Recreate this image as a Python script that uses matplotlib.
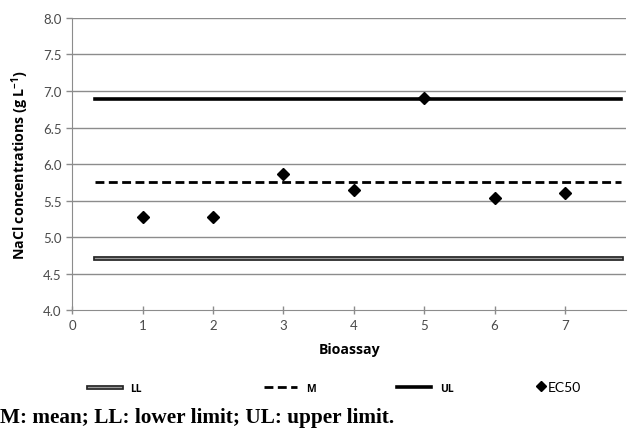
import matplotlib
matplotlib.use("Agg")
import matplotlib.pyplot as plt
import matplotlib.patheffects as pe
from matplotlib.lines import Line2D

# data
bioassay = [1, 2, 3, 4, 5, 6, 7]
ec50 = [5.28, 5.27, 5.87, 5.65, 6.91, 5.53, 5.60]
lower_limit = 4.72
mean_value = 5.75
upper_limit = 6.89
line_span = [0.33, 7.8]
y_ticks = [4.0, 4.5, 5.0, 5.5, 6.0, 6.5, 7.0, 7.5, 8.0]
x_ticks = [0, 1, 2, 3, 4, 5, 6, 7]

plt.rcParams['font.family'] = ['Lato', 'DejaVu Sans']
plt.rcParams['mathtext.fontset'] = 'custom'
plt.rcParams['mathtext.rm'] = 'Open Sans'
plt.rcParams['mathtext.bf'] = 'Open Sans:bold'

fig = plt.figure(figsize=(6.28, 4.31), dpi=100)
ax = fig.add_axes([0.115, 0.278, 0.882, 0.678])

grid_col = '#8c8c8c'
for yv in y_ticks[1:]:
    ax.axhline(yv, color=grid_col, lw=1.0, zorder=1)

ll_effects = [pe.Stroke(linewidth=3.4, foreground='#222222'), pe.Normal()]
ll_line, = ax.plot(line_span, [lower_limit] * 2, color='#9a9a9a', lw=1.0,
                   path_effects=ll_effects, zorder=3, label='LL')
m_line, = ax.plot(line_span, [mean_value] * 2, color='black', lw=2.0,
                  ls=(0, (3.2, 1.6)), zorder=3, label='M')
ul_line, = ax.plot(line_span, [upper_limit] * 2, color='black', lw=2.6,
                   zorder=3, label='UL')
pts, = ax.plot(bioassay, ec50, ls='none', marker='D', ms=6.5, color='black',
               zorder=4, label='EC50')

ax.set_xlim(0, 7.87)
ax.set_ylim(4.0, 8.0)
ax.set_xticks(x_ticks)
ax.set_yticks(y_ticks)
ax.set_yticklabels([f"{v:.1f}" for v in y_ticks])
for s in ['top', 'right']:
    ax.spines[s].set_visible(False)
ax.spines['left'].set_color(grid_col)
ax.spines['bottom'].set_color(grid_col)
ax.tick_params(axis='both', colors=grid_col, labelcolor='#4a4a4a', labelsize=9.5,
               length=4, width=1)
ax.tick_params(axis='x', direction='inout', length=6)

label_font = {'family': ['Open Sans', 'DejaVu Sans'], 'weight': 'bold', 'size': 10.2}
ax.set_xlabel('Bioassay', fontdict=label_font, labelpad=8)
ax.set_ylabel('NaCl concentrations (g L$\\mathbf{^{-1}}$)', fontdict=label_font,
              labelpad=9)

# legend entries spread along the bottom row
entries = [(ll_line, 0.125), (m_line, 0.405), (ul_line, 0.618)]
for handle, xpos in entries:
    fig.legend(handles=[handle], loc='center left', bbox_to_anchor=(xpos, 0.097),
               frameon=False, handlelength=3.2, handletextpad=0.9,
               prop={'family': ['Open Sans', 'DejaVu Sans'], 'size': 7.5,
                     'weight': 'bold'})
fig.legend(handles=[Line2D([], [], ls='none', marker='D', ms=5, color='black')],
           labels=['EC50'], loc='center left', bbox_to_anchor=(0.835, 0.1),
           frameon=False, handlelength=0.6, handletextpad=0.2,
           prop={'size': 10})

fig.text(0.0, 0.03, 'M: mean; LL: lower limit; UL: upper limit.',
         family=['Liberation Serif', 'DejaVu Serif'], fontweight='bold',
         fontsize=15.3, ha='left', va='center')

fig.savefig('out.png', dpi=100)
